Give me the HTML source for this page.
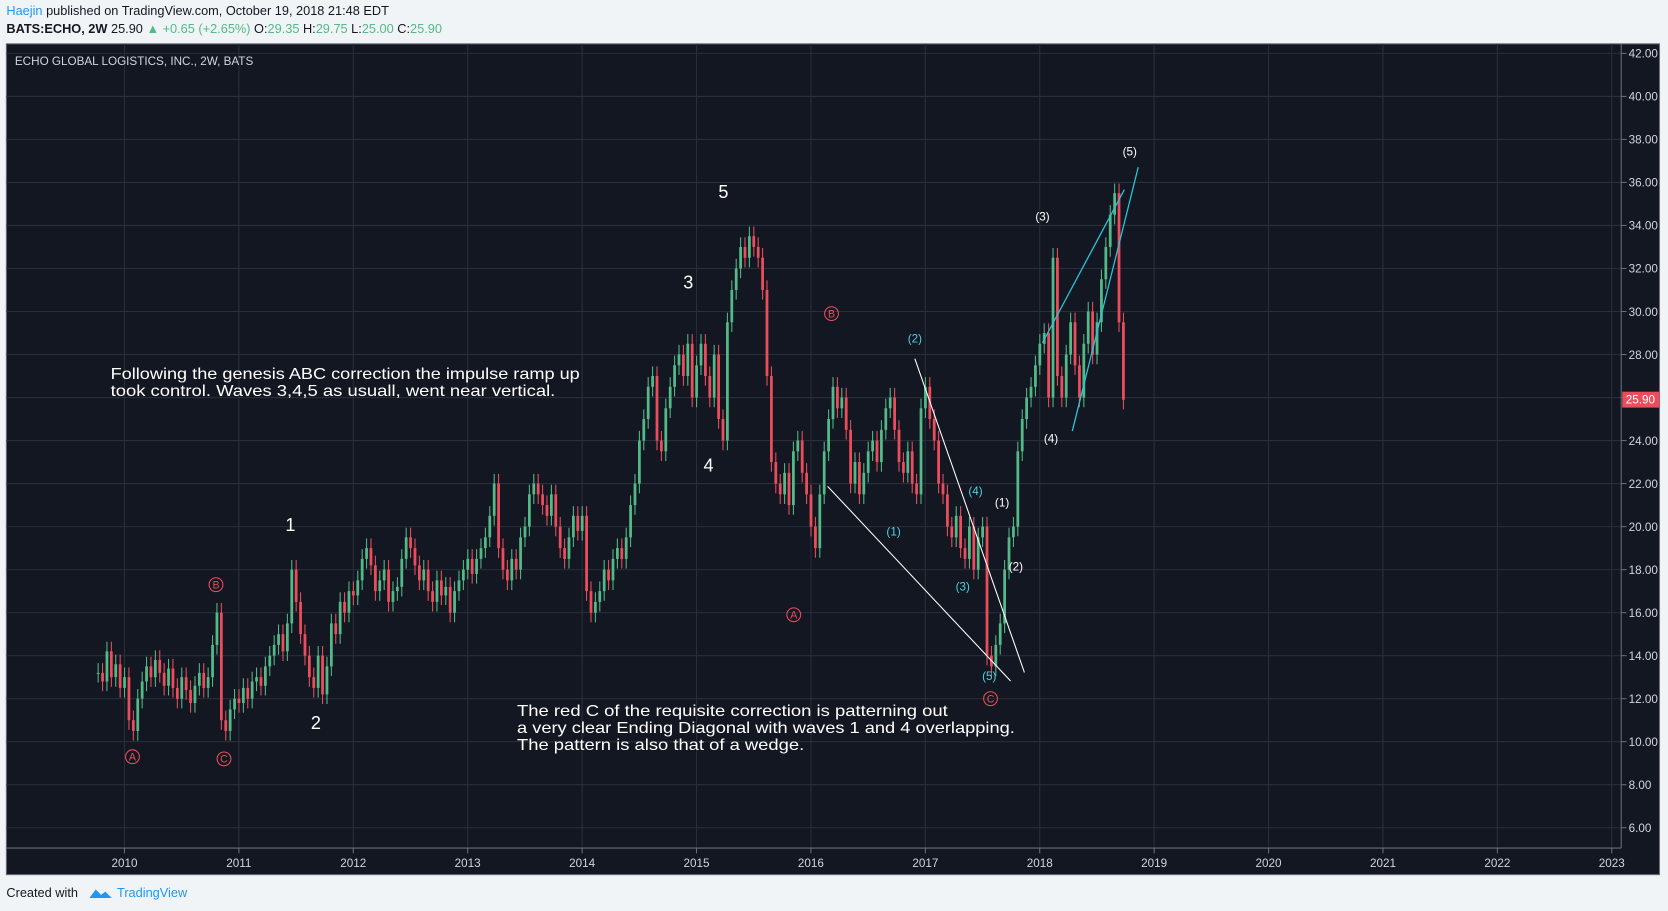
<!DOCTYPE html>
<html><head><meta charset="utf-8"><style>
html,body{margin:0;padding:0;background:#f1f4f7;}
svg{display:block;font-family:"Liberation Sans",sans-serif;}
</style></head><body>
<svg id="chart" width="1668" height="911" viewBox="0 0 1568 856" xmlns="http://www.w3.org/2000/svg">
<rect x="0" y="0" width="1568" height="856" fill="#f1f4f7"/>
<text x="6" y="14" font-size="12" fill="#131722"><tspan fill="#2196f3">Haejin</tspan> published on TradingView.com, October 19, 2018 21:48 EDT</text>
<text x="6" y="31" font-size="12" font-weight="bold" fill="#131722">BATS:ECHO, 2W <tspan font-weight="normal">25.90 </tspan><tspan fill="#53b987">▲</tspan><tspan font-weight="normal" fill="#53b987"> +0.65 (+2.65%)</tspan><tspan font-weight="normal"> O:</tspan><tspan font-weight="normal" fill="#53b987">29.35</tspan><tspan font-weight="normal"> H:</tspan><tspan font-weight="normal" fill="#53b987">29.75</tspan><tspan font-weight="normal"> L:</tspan><tspan font-weight="normal" fill="#53b987">25.00</tspan><tspan font-weight="normal"> C:</tspan><tspan font-weight="normal" fill="#53b987">25.90</tspan></text>
<rect x="6" y="41" width="1554" height="781" fill="#131722" stroke="#6a6d78" stroke-width="1"/>
<g id="grid"></g>
<line x1="1524" y1="41" x2="1524" y2="797" stroke="#6a6d78"/>
<line x1="6" y1="797" x2="1524" y2="797" stroke="#6a6d78"/>
<g id="axes"></g>
<text x="14" y="61" font-size="11" fill="#d1d4dc">ECHO GLOBAL LOGISTICS, INC., 2W, BATS</text>
<g id="candles"></g>
<g>
<line x1="778" y1="457" x2="950" y2="640" stroke="#ffffff" stroke-width="1"/>
<line x1="860" y1="337" x2="963" y2="632" stroke="#ffffff" stroke-width="1"/>
<line x1="980" y1="322" x2="1057" y2="178" stroke="#26c6da" stroke-width="1.2"/>
<line x1="1008" y1="405" x2="1070" y2="157" stroke="#26c6da" stroke-width="1.2"/>
</g>
<g font-size="17" fill="#ffffff" text-anchor="middle">
<text x="273" y="499">1</text><text x="297" y="685">2</text><text x="647" y="271">3</text><text x="666" y="443">4</text><text x="680" y="186">5</text>
</g>
<g id="circles" font-size="10" text-anchor="middle"></g>
<g font-size="11" text-anchor="middle" fill="#4dd0e1">
<text x="860" y="322">(2)</text><text x="840" y="503">(1)</text><text x="917" y="465">(4)</text><text x="905" y="555">(3)</text><text x="930" y="639">(5)</text>
</g>
<g font-size="11" text-anchor="middle" fill="#ffffff">
<text x="942" y="476">(1)</text><text x="955" y="536">(2)</text><text x="980" y="207">(3)</text><text x="988" y="416">(4)</text><text x="1062" y="146">(5)</text>
</g>
<g font-size="15" fill="#ffffff">
<text x="104" y="356" textLength="441" lengthAdjust="spacingAndGlyphs">Following the genesis ABC correction the impulse ramp up</text>
<text x="104" y="372" textLength="418" lengthAdjust="spacingAndGlyphs">took control. Waves 3,4,5 as usuall, went near vertical.</text>
</g>
<g font-size="15" fill="#ffffff">
<text x="486" y="673" textLength="405" lengthAdjust="spacingAndGlyphs">The red C of the requisite correction is patterning out</text>
<text x="486" y="689" textLength="468" lengthAdjust="spacingAndGlyphs">a very clear Ending Diagonal with waves 1 and 4 overlapping.</text>
<text x="486" y="705" textLength="270" lengthAdjust="spacingAndGlyphs">The pattern is also that of a wedge.</text>
</g>
<rect x="1525" y="368" width="35" height="15" fill="#eb4d5c"/>
<text x="1542" y="379" font-size="11" fill="#fff" text-anchor="middle">25.90</text>
<text x="6" y="843" font-size="12" fill="#131722">Created with</text>
<path d="M84 844 l6 -8 l5 5 l4 -3 l6 6 z" fill="#2196f3"/>
<text x="110" y="843" font-size="12" fill="#2196f3">TradingView</text>
</svg>
<script>
const yTicks=[42,40,38,36,34,32,30,28,26,24,22,20,18,16,14,12,10,8,6];
const xYears=[2010,2011,2012,2013,2014,2015,2016,2017,2018,2019,2020,2021,2022,2023];
const startTime=2009.77;
const closes=[13.2,12.8,14.2,13.0,13.6,12.5,
13.0,11.0,10.5,12.0,12.8,13.5,13.0,13.8,13.2,12.6,13.4,12.5,12.0,13.0,12.4,11.8,12.6,13.2,12.5,13.0,14.5,16.0,11.0,10.5,11.5,12.0,
11.8,12.5,12.0,12.8,13.0,12.6,13.5,14.0,14.5,15.0,14.2,15.5,18.0,16.5,15.0,14.0,13.0,12.5,14.0,12.2,13.5,15.5,15.0,16.5,16.0,17.0,
16.8,17.5,18.5,19.0,18.2,17.0,17.5,18.0,16.5,17.0,17.2,18.5,19.5,19.0,18.2,17.5,18.0,17.0,16.5,17.5,16.8,17.2,16.0,17.0,17.5,18.0,
18.5,17.8,18.5,19.0,19.5,20.5,22.0,19.0,18.0,17.5,18.5,18.0,19.5,20.0,21.5,22.0,21.5,21.0,20.5,21.5,20.0,19.0,18.5,19.5,20.5,19.8,
20.5,17.0,16.0,16.5,17.0,18.0,17.5,18.5,19.0,18.5,19.5,21.0,22.0,24.0,25.0,26.5,27.0,24.0,23.5,25.5,26.5,27.5,28.0,27.0,28.5,26.0,
27.5,28.5,27.0,26.0,28.0,25.0,24.0,29.5,31.0,32.0,33.0,32.5,33.5,33.0,32.5,31.0,27.0,23.0,22.0,21.5,22.5,21.0,23.5,24.0,22.5,21.5,
20.0,19.0,21.5,23.5,25.0,26.5,25.5,26.0,24.5,22.0,23.0,21.5,22.5,23.5,24.0,23.0,24.5,25.5,26.0,24.5,23.0,22.5,23.5,22.0,21.5,25.5,
26.5,25.0,24.0,22.0,21.5,20.0,19.5,20.5,19.0,18.5,20.0,18.0,19.5,20.0,14.0,13.5,14.5,15.5,18.0,19.5,20.0,23.5,25.0,26.0,26.5,27.5,
28.5,29.0,26.0,32.5,27.0,26.0,28.0,29.5,27.5,26.0,28.5,30.0,28.0,29.5,31.5,33.0,34.5,35.5,29.5,25.9];
const circleLabels=["A","B","C","A","B","C"];
const circleTimes=[2010.07,2010.8,2010.87,2015.85,2016.18,2017.57];
const circlePrices=[9.3,17.3,9.2,15.9,29.9,12.0];

const NS="http://www.w3.org/2000/svg";
const yScale=p=>50+(42-p)*20.22;
const xScale=t=>117+(t-2010)*107.55;
function mk(tag,attrs,parent){const e=document.createElementNS(NS,tag);for(const k in attrs)e.setAttribute(k,attrs[k]);parent.appendChild(e);return e;}
const grid=document.getElementById('grid'),axes=document.getElementById('axes');
yTicks.forEach(v=>{const y=yScale(v);
 mk('line',{x1:6,x2:1524,y1:y,y2:y,stroke:'#2a2e39'},grid);
 mk('line',{x1:1524,x2:1529,y1:y,y2:y,stroke:'#6a6d78'},axes);
 const t=mk('text',{x:1531,y:y+4,'font-size':11,fill:'#d1d4dc'},axes);t.textContent=v.toFixed(2);
 
 });
xYears.forEach(v=>{const x=xScale(v);
 mk('line',{x1:x,x2:x,y1:41,y2:797,stroke:'#2a2e39'},grid);
 mk('line',{x1:x,x2:x,y1:797,y2:802,stroke:'#6a6d78'},axes);
 const t=mk('text',{x:x,y:815,'font-size':11,fill:'#d1d4dc','text-anchor':'middle'},axes);t.textContent=v;
 
 });
const cg=document.getElementById('candles');
closes.forEach((c,i)=>{const o=i===0?c:closes[i-1];const x=xScale(startTime+i/26);
 const up=c>=o;const col=up?'#53b987':'#eb4d5c';
 const hi=Math.max(o,c)+0.45,lo=Math.min(o,c)-0.45;
 const g=mk('g',{},cg);
 
 
 mk('line',{x1:x,x2:x,y1:yScale(hi),y2:yScale(lo),stroke:col,'stroke-width':1},g);
 const top=yScale(Math.max(o,c)),bot=yScale(Math.min(o,c));
 mk('rect',{x:x-1.3,y:top,width:2.6,height:Math.max(1,bot-top),fill:col},g);});
const cir=document.getElementById('circles');
circleLabels.forEach((l,i)=>{const x=xScale(circleTimes[i]),y=yScale(circlePrices[i]);
 const g=mk('g',{},cir);
 
 
 mk('circle',{cx:x,cy:y,r:6.5,fill:'none',stroke:'#eb4d5c','stroke-width':1},g);
 const t=mk('text',{x:x,y:y+3.5,fill:'#eb4d5c'},g);t.textContent=l;});
</script>
</body></html>
